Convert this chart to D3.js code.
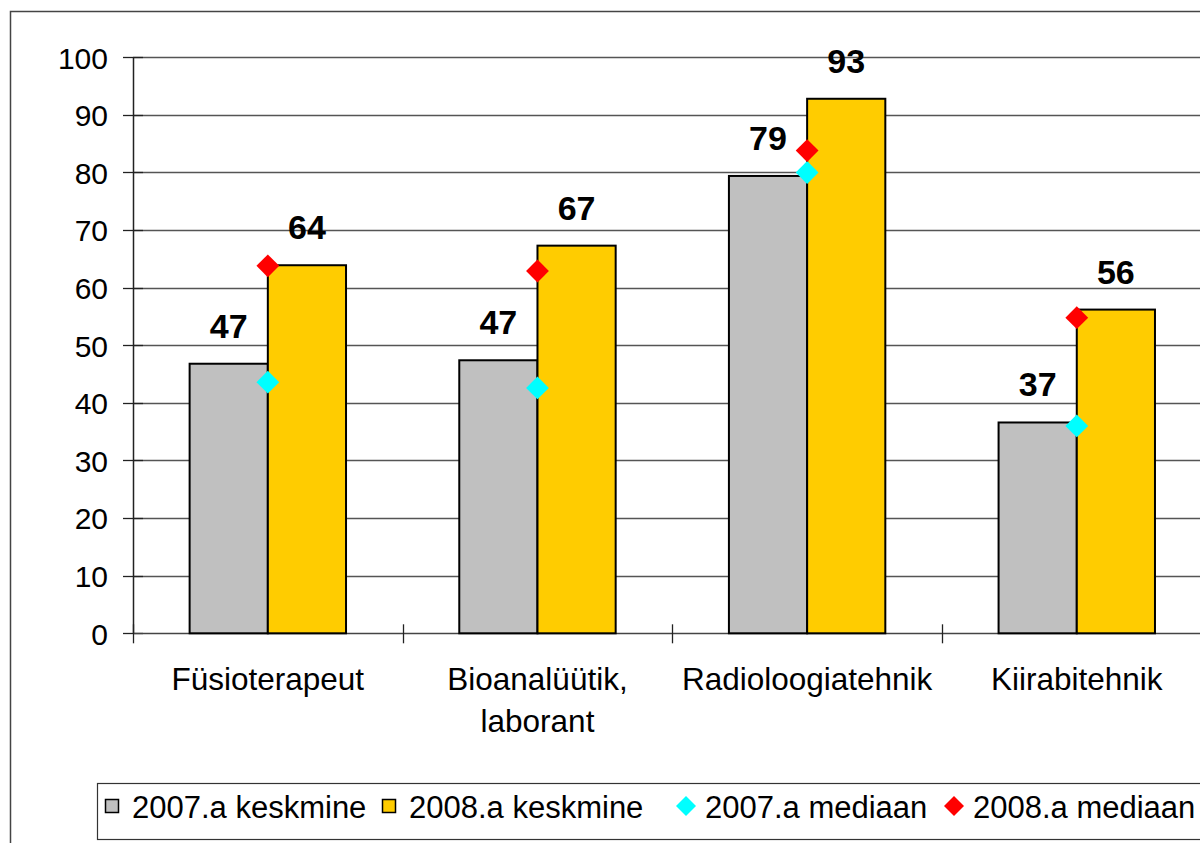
<!DOCTYPE html>
<html>
<head>
<meta charset="utf-8">
<script src="https://cdn.jsdelivr.net/npm/d3@7"></script>
<style>
  body { margin: 0; background: #fff; }
  text { font-family: "Liberation Sans", Arial, sans-serif; fill: #000; }
</style>
</head>
<body>
<div id="chart"></div>
<script>
// data
var categories = ["Füsioterapeut", "Bioanalüütik,\nlaborant", "Radioloogiatehnik", "Kiirabitehnik"];
var mean2007 = [46.8, 47.4, 79.4, 36.6];
var mean2008 = [63.9, 67.3, 92.8, 56.2];
var median2007 = [43.6, 42.6, 80.0, 36.0];
var median2008 = [63.8, 62.9, 83.8, 54.8];
var yTicks = [0, 10, 20, 30, 40, 50, 60, 70, 80, 90, 100];
var seriesNames = ["2007.a keskmine", "2008.a keskmine", "2007.a mediaan", "2008.a mediaan"];

var W = 1200, H = 843;
var plot = {left: 133, right: 1211.6, top: 57.3, bottom: 633.3};

var svg = d3.select("#chart")
  .append("svg")
    .attr("width", W)
    .attr("height", H);

// outer chart border (cropped on right/bottom)
svg.append("rect")
  .attr("x", 10.5).attr("y", 11.5)
  .attr("width", 1300).attr("height", 900)
  .attr("fill", "none")
  .attr("stroke", "#444")
  .attr("stroke-width", 1.5);

var y = d3.scaleLinear().domain([0, 100]).range([plot.bottom, plot.top]);

var x0 = d3.scaleBand()
  .domain(categories)
  .range([plot.left, plot.right])
  .paddingInner(0.42)
  .paddingOuter(0.21);

var x1 = d3.scaleBand()
  .domain(["a", "b"])
  .range([0, x0.bandwidth()]);

// gridlines
svg.append("g")
  .selectAll("line")
  .data(yTicks.filter(function(d) { return d > 0; }))
  .enter()
  .append("line")
    .attr("x1", plot.left).attr("x2", W + 20)
    .attr("y1", function(d) { return Math.round(y(d)) + 0.5; })
    .attr("y2", function(d) { return Math.round(y(d)) + 0.5; })
    .attr("stroke", "#555")
    .attr("stroke-width", 1.3);

// y axis
var yAxis = svg.append("g")
  .attr("transform", "translate(" + plot.left + ",0)")
  .call(d3.axisLeft(y).tickValues(yTicks).tickSize(0).tickPadding(25));
yAxis.select(".domain").remove();
yAxis.selectAll("text")
  .style("font-size", "30px")
  .style("font-family", "'Liberation Sans', Arial, sans-serif")
  .attr("dy", "0.36em");

svg.append("g")
  .selectAll("line")
  .data(yTicks)
  .enter()
  .append("line")
    .attr("x1", plot.left - 10).attr("x2", plot.left + 10)
    .attr("y1", function(d) { return Math.round(y(d)) + 0.5; })
    .attr("y2", function(d) { return Math.round(y(d)) + 0.5; })
    .attr("stroke", "#222")
    .attr("stroke-width", 1.3);

svg.append("line")
  .attr("x1", plot.left + 0.5).attr("x2", plot.left + 0.5)
  .attr("y1", plot.top).attr("y2", plot.bottom)
  .attr("stroke", "#222").attr("stroke-width", 1.5);

// x axis baseline and category ticks
svg.append("line")
  .attr("x1", plot.left).attr("x2", W + 20)
  .attr("y1", Math.round(plot.bottom) + 0.5).attr("y2", Math.round(plot.bottom) + 0.5)
  .attr("stroke", "#444").attr("stroke-width", 1.5);

var step = x0.step();
svg.append("g")
  .selectAll("line")
  .data(d3.range(categories.length + 1))
  .enter()
  .append("line")
    .attr("x1", function(i) { return Math.round(plot.left + i * step) + 0.5; })
    .attr("x2", function(i) { return Math.round(plot.left + i * step) + 0.5; })
    .attr("y1", plot.bottom - 9)
    .attr("y2", plot.bottom + 10)
    .attr("stroke", "#222")
    .attr("stroke-width", 1.3);

// category labels
var catLabels = svg.append("g")
  .selectAll("text")
  .data(categories)
  .enter()
  .append("text")
    .attr("text-anchor", "middle")
    .style("font-size", "31.5px")
    .attr("x", function(d) { return x0(d) + x0.bandwidth() / 2; })
    .attr("y", 690);
catLabels.each(function(d) {
  var t = d3.select(this);
  d.split("\n").forEach(function(line, i) {
    t.append("tspan")
      .attr("x", t.attr("x"))
      .attr("dy", i === 0 ? 0 : 42)
      .text(line);
  });
});

// bars
var groups = svg.append("g")
  .selectAll("g")
  .data(categories)
  .enter()
  .append("g")
    .attr("transform", function(d) { return "translate(" + x0(d) + ",0)"; });

groups.append("rect")
  .attr("x", x1("a"))
  .attr("width", x1.bandwidth())
  .attr("y", function(d, i) { return y(mean2007[i]); })
  .attr("height", function(d, i) { return plot.bottom - y(mean2007[i]); })
  .attr("fill", "#c0c0c0")
  .attr("stroke", "#000")
  .attr("stroke-width", 2);

groups.append("rect")
  .attr("x", x1("b"))
  .attr("width", x1.bandwidth())
  .attr("y", function(d, i) { return y(mean2008[i]); })
  .attr("height", function(d, i) { return plot.bottom - y(mean2008[i]); })
  .attr("fill", "#ffcc00")
  .attr("stroke", "#000")
  .attr("stroke-width", 2);

// value labels
var fmt = d3.format(".0f");
groups.append("text")
  .attr("x", x1("a") + x1.bandwidth() / 2)
  .attr("y", function(d, i) { return y(mean2007[i]) - 26; })
  .attr("text-anchor", "middle")
  .style("font-size", "34px")
  .style("font-weight", "bold")
  .text(function(d, i) { return fmt(mean2007[i]); });

groups.append("text")
  .attr("x", x1("b") + x1.bandwidth() / 2)
  .attr("y", function(d, i) { return y(mean2008[i]) - 26; })
  .attr("text-anchor", "middle")
  .style("font-size", "34px")
  .style("font-weight", "bold")
  .text(function(d, i) { return fmt(mean2008[i]); });

// median diamonds
var diamond = d3.symbol().type(d3.symbolSquare).size(260);
groups.append("path")
  .attr("d", diamond)
  .attr("transform", function(d, i) {
    return "translate(" + x1("b") + "," + y(median2007[i]) + ") rotate(45)";
  })
  .attr("fill", "#00ffff");

groups.append("path")
  .attr("d", diamond)
  .attr("transform", function(d, i) {
    return "translate(" + x1("b") + "," + y(median2008[i]) + ") rotate(45)";
  })
  .attr("fill", "#ff0000");

// legend
var legend = svg.append("g");
legend.append("rect")
  .attr("x", 97.5).attr("y", 783.5)
  .attr("width", 1200).attr("height", 56)
  .attr("fill", "#fff")
  .attr("stroke", "#333")
  .attr("stroke-width", 1.2);

var legendX = [105, 382, 676, 944];
var legendItems = legend.selectAll("g.item")
  .data(seriesNames)
  .enter()
  .append("g")
    .attr("class", "item")
    .attr("transform", function(d, i) { return "translate(" + legendX[i] + ",0)"; });

legendItems.filter(function(d, i) { return i < 2; })
  .append("rect")
    .attr("x", 0.5).attr("y", 799.5)
    .attr("width", 13).attr("height", 13)
    .attr("fill", function(d, i) { return i === 0 ? "#c0c0c0" : "#ffcc00"; })
    .attr("stroke", "#000")
    .attr("stroke-width", 1.5);

legendItems.filter(function(d, i) { return i >= 2; })
  .append("path")
    .attr("d", d3.symbol().type(d3.symbolSquare).size(200))
    .attr("transform", "translate(10,806) rotate(45)")
    .attr("fill", function(d, i) { return i === 0 ? "#00ffff" : "#ff0000"; });

legendItems.append("text")
  .attr("x", function(d, i) { return i < 2 ? 27 : 29; })
  .attr("y", 818)
  .style("font-size", "31px")
  .text(function(d) { return d; });
</script>
</body>
</html>
